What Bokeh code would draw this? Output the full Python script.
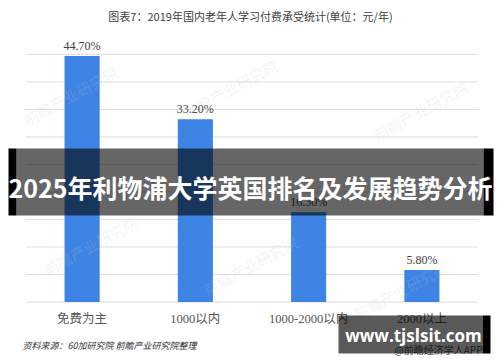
from bokeh.plotting import figure
from bokeh.models import Range1d, FactorRange, Label, BoxAnnotation, ColumnDataSource
from bokeh.core.properties import value
from bokeh.embed import file_html
from bokeh.resources import INLINE

categories = ["免费为主", "1000以内", "1000-2000以内", "2000以上"]
shares = [44.7, 33.2, 16.3, 5.8]
share_labels = ["44.70%", "33.20%", "16.30%", "5.80%"]
grid_ticks = [0, 5, 10, 15, 20, 25, 30, 35, 40, 45]

title_text = "图表7：2019年国内老年人学习付费承受统计(单位：元/年)"
banner_text = "2025年利物浦大学英国排名及发展趋势分析"
source_text = "资料来源：60加研究院 前瞻产业研究院整理"
site_text = "www.tjslsit.com"
app_text = "@前瞻经济学人APP"
watermark_text = "前瞻产业研究院"

W, H = 500, 362
FL = 3  # frame left offset

p = figure(width=W, height=H,
           x_range=FactorRange(*categories, range_padding=0.194, range_padding_units="absolute"),
           y_range=Range1d(-11.0, 54.8),
           output_backend="svg", toolbar_location=None,
           x_axis_location=None, y_axis_location=None,
           min_border_left=FL, min_border_right=0, min_border_top=0, min_border_bottom=0)
p.outline_line_color = None
p.background_fill_color = "white"
p.border_fill_color = "white"
p.xgrid.grid_line_color = None
p.ygrid.grid_line_color = None

# gridlines spanning the category bands
n = len(grid_ticks)
p.segment(x0=[(categories[0], -0.5)] * n, x1=[(categories[-1], 0.5)] * n,
          y0=grid_ticks, y1=grid_ticks, line_color="#dedede", line_width=1)

def sx(X):
    return X - FL

def sy(Y):
    return H - Y

# faint watermarks
for (X, Y) in [(70, 95), (230, 88), (420, 110), (90, 245), (250, 265), (400, 290)]:
    p.add_layout(Label(x=sx(X), y=sy(Y), x_units="screen", y_units="screen",
                       text=watermark_text, text_font="Noto Sans CJK SC",
                       text_font_size="15px", text_color="#c8c8c8", text_alpha=0.2,
                       angle=0.5, text_align="center", text_baseline="middle"))

src = ColumnDataSource(dict(x=categories, top=shares, lab=share_labels))
p.vbar(x="x", top="top", width=0.31, source=src, fill_color="#3E84E4", line_color=None)
p.text(x="x", y="top", text="lab", source=src, y_offset=-3,
       text_align="center", text_baseline="bottom",
       text_font=value("Liberation Serif"), text_font_size="12px", text_color="#404040")

# category labels below the baseline
p.text(x=categories, y=[0] * len(categories), text=categories, y_offset=17,
       text_align="center", text_baseline="middle",
       text_font=value("'Liberation Serif', 'Noto Sans CJK SC'"),
       text_font_size="12.5px", text_color="#555555")

p.add_layout(Label(x=sx(250), y=sy(15), x_units="screen", y_units="screen",
                   text=title_text, text_font="Noto Sans CJK SC", text_font_size="11px",
                   text_color="#404040", text_align="center", text_baseline="middle"))

p.add_layout(Label(x=sx(22), y=sy(345), x_units="screen", y_units="screen",
                   text=source_text, text_font="Noto Sans CJK SC", text_font_size="9px",
                   text_font_style="italic", text_color="#333333",
                   text_align="left", text_baseline="middle"))

p.add_layout(Label(x=sx(482), y=sy(349), x_units="screen", y_units="screen",
                   text=app_text, text_font="Noto Sans CJK SC", text_font_size="10px",
                   text_color="#555555", text_align="right", text_baseline="middle"))

def box(X0, X1, Y0, Y1, color, alpha):
    p.add_layout(BoxAnnotation(left=sx(X0), right=sx(X1), top=sy(Y0), bottom=sy(Y1),
                               left_units="screen", right_units="screen",
                               top_units="screen", bottom_units="screen",
                               fill_color=color, fill_alpha=alpha, line_color=None,
                               level="overlay"))

# banner
box(8, 16, 148, 215, "black", 1.0)
box(16, 483, 148, 215, "black", 0.6)
box(483, 493, 148, 215, "black", 1.0)
# site box
box(338, 482, 315, 353, "black", 0.65)
box(482, 490, 315, 353, "black", 1.0)

p.add_layout(Label(x=sx(250), y=sy(186), x_units="screen", y_units="screen",
                   text=banner_text, text_font="Noto Sans CJK SC", text_font_size="25px",
                   text_font_style="bold", text_color="white",
                   text_align="center", text_baseline="middle", level="overlay"))

p.add_layout(Label(x=sx(413), y=sy(335), x_units="screen", y_units="screen",
                   text=site_text, text_font="Open Sans", text_font_size="17px",
                   text_font_style="bold", text_color="white",
                   text_align="center", text_baseline="middle", level="overlay"))

open("out.html", "w").write(file_html(p, INLINE))
